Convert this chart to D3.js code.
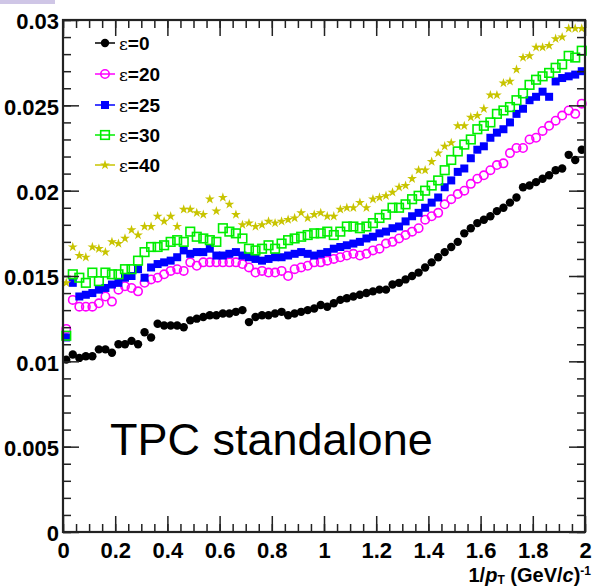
<!DOCTYPE html>
<html>
<head>
<meta charset="utf-8">
<script src="https://cdn.jsdelivr.net/npm/d3@7"></script>
<style>
  html, body { margin: 0; padding: 0; background: #fff; }
  svg { display: block; }
  text { font-family: "Liberation Sans", Arial, Helvetica, sans-serif; }
</style>
</head>
<body>
<svg id="chart" width="597" height="588"></svg>
<script>
// Histogram binning in 1/pT: 80 bins of width 0.025 between 0 and 2
const binWidth = 0.025;
const nBins = 80;
const binCenters = d3.range(nBins).map(i => binWidth * (i + 0.5));

// Resolution per bin for each setting of epsilon
const eps0 = [
  0.0101, 0.0104, 0.0102, 0.0103, 0.0103, 0.0107, 0.0107, 0.0105, 0.0110, 0.0110,
  0.0112, 0.0110, 0.0117, 0.0114, 0.0122, 0.0121, 0.0121, 0.0121, 0.0120, 0.0124,
  0.0125, 0.0126, 0.0127, 0.0127, 0.0128, 0.0128, 0.0129, 0.0130, 0.0123, 0.0126,
  0.0127, 0.0127, 0.0128, 0.0129, 0.0127, 0.0128, 0.0129, 0.0130, 0.0131, 0.0133,
  0.0132, 0.0134, 0.0136, 0.0137, 0.0138, 0.0139, 0.0140, 0.0141, 0.0142, 0.0142,
  0.0145, 0.0146, 0.0148, 0.0150, 0.0152, 0.0155, 0.0158, 0.0161, 0.0164, 0.0167,
  0.0170, 0.0175, 0.0178, 0.0181, 0.0183, 0.0185, 0.0188, 0.0190, 0.0193, 0.0196,
  0.0202, 0.0203, 0.0205, 0.0207, 0.0209, 0.0212, 0.0213, 0.0221, 0.0218, 0.0224
];
const eps20 = [
  0.0119, 0.0136, 0.0132, 0.0132, 0.0132, 0.0134, 0.0138, 0.0135, 0.0142, 0.0144,
  0.0143, 0.0141, 0.0146, 0.0148, 0.0149, 0.0151, 0.0153, 0.0154, 0.0153, 0.0158,
  0.0156, 0.0158, 0.0158, 0.0158, 0.0158, 0.0158, 0.0158, 0.0157, 0.0155, 0.0152,
  0.0153, 0.0152, 0.0152, 0.0153, 0.0150, 0.0154, 0.0155, 0.0156, 0.0158, 0.0158,
  0.0159, 0.0160, 0.0161, 0.0162, 0.0163, 0.0162, 0.0163, 0.0165, 0.0166, 0.0169,
  0.0170, 0.0172, 0.0174, 0.0176, 0.0178, 0.0183, 0.0185, 0.0187, 0.0192, 0.0195,
  0.0198, 0.0200, 0.0204, 0.0207, 0.0209, 0.0212, 0.0215, 0.0216, 0.0222, 0.0225,
  0.0225, 0.0230, 0.0231, 0.0235, 0.0238, 0.0241, 0.0244, 0.0247, 0.0245, 0.0251
];
const eps25 = [
  0.0114, 0.0146, 0.0138, 0.0139, 0.0140, 0.0142, 0.0143, 0.0145, 0.0146, 0.0149,
  0.0150, 0.0154, 0.0149, 0.0155, 0.0157, 0.0158, 0.0159, 0.0161, 0.0165, 0.0163,
  0.0164, 0.0164, 0.0166, 0.0162, 0.0162, 0.0163, 0.0164, 0.0162, 0.0161, 0.0160,
  0.0159, 0.0160, 0.0161, 0.0161, 0.0162, 0.0163, 0.0164, 0.0163, 0.0162, 0.0163,
  0.0164, 0.0166, 0.0167, 0.0168, 0.0169, 0.0170, 0.0172, 0.0173, 0.0175, 0.0176,
  0.0178, 0.0179, 0.0182, 0.0185, 0.0187, 0.0190, 0.0193, 0.0196, 0.0202, 0.0206,
  0.0211, 0.0213, 0.0219, 0.0224, 0.0226, 0.0231, 0.0234, 0.0236, 0.0240, 0.0245,
  0.0248, 0.0253, 0.0255, 0.0258, 0.0255, 0.0264, 0.0266, 0.0267, 0.0268, 0.0270
];
const eps30 = [
  0.0115, 0.0151, 0.0149, 0.0146, 0.0152, 0.0147, 0.0152, 0.0151, 0.0151, 0.0154,
  0.0154, 0.0159, 0.0164, 0.0167, 0.0167, 0.0168, 0.0170, 0.0171, 0.0170, 0.0176,
  0.0173, 0.0172, 0.0171, 0.0170, 0.0178, 0.0176, 0.0175, 0.0172, 0.0166, 0.0165,
  0.0166, 0.0168, 0.0166, 0.0169, 0.0171, 0.0172, 0.0173, 0.0174, 0.0175, 0.0175,
  0.0176, 0.0174, 0.0176, 0.0179, 0.0179, 0.0178, 0.0179, 0.0181, 0.0184, 0.0186,
  0.0190, 0.0190, 0.0192, 0.0195, 0.0197, 0.0200, 0.0203, 0.0206, 0.0212, 0.0218,
  0.0223, 0.0227, 0.0230, 0.0236, 0.0238, 0.0240, 0.0245, 0.0247, 0.0249, 0.0253,
  0.0257, 0.0262, 0.0265, 0.0267, 0.0269, 0.0272, 0.0274, 0.0279, 0.0278, 0.0282
];
const eps40 = [
  0.0146, 0.0167, 0.0162, 0.0161, 0.0167, 0.0166, 0.0164, 0.0170, 0.0169, 0.0172,
  0.0177, 0.0174, 0.0179, 0.0179, 0.0185, 0.0182, 0.0185, 0.0179, 0.0189, 0.0189,
  0.0187, 0.0186, 0.0195, 0.0188, 0.0196, 0.0192, 0.0186, 0.0180, 0.0181, 0.0179,
  0.0180, 0.0182, 0.0181, 0.0182, 0.0183, 0.0184, 0.0187, 0.0184, 0.0186, 0.0187,
  0.0185, 0.0185, 0.0189, 0.0190, 0.0190, 0.0193, 0.0190, 0.0195, 0.0196, 0.0197,
  0.0199, 0.0202, 0.0203, 0.0207, 0.0212, 0.0212, 0.0217, 0.0222, 0.0226, 0.0228,
  0.0238, 0.0238, 0.0243, 0.0244, 0.0248, 0.0256, 0.0256, 0.0263, 0.0264, 0.0271,
  0.0278, 0.0279, 0.0284, 0.0284, 0.0285, 0.0289, 0.0290, 0.0295, 0.0295, 0.0295
];

const seriesNames = ["0", "20", "25", "30", "40"];
const seriesValues = [eps0, eps20, eps25, eps30, eps40];

const xTickValues = [0, 0.2, 0.4, 0.6, 0.8, 1, 1.2, 1.4, 1.6, 1.8, 2];
const xTickLabels = ["0", "0.2", "0.4", "0.6", "0.8", "1", "1.2", "1.4", "1.6", "1.8", "2"];
const yTickValues = [0, 0.005, 0.01, 0.015, 0.02, 0.025, 0.03];
const yTickLabels = ["0", "0.005", "0.01", "0.015", "0.02", "0.025", "0.03"];

// Marker styles per series
const styles = [
  { color: "#000000", shape: "circleFilled" },
  { color: "#ff00ff", shape: "circleOpen" },
  { color: "#0000ff", shape: "squareFilled" },
  { color: "#00ee00", shape: "squareOpen" },
  { color: "#c8c400", shape: "star" }
];

const svg = d3.select("#chart");
const frame = { left: 63, right: 585, top: 20, bottom: 532 };

const x = d3.scaleLinear().domain([0, 2]).range([frame.left, frame.right]);
const y = d3.scaleLinear().domain([0, 0.03]).range([frame.bottom, frame.top]);

// small header strip in the corner
svg.append("rect").attr("x", 0).attr("y", 0).attr("width", 55).attr("height", 4)
  .attr("fill", "#cfc6e6");

function drawMarker(g, shape, color) {
  if (shape === "circleFilled") {
    g.append("circle").attr("r", 4.2).attr("fill", color);
  } else if (shape === "circleOpen") {
    g.append("circle").attr("r", 4.2).attr("fill", "none")
      .attr("stroke", color).attr("stroke-width", 1.6);
  } else if (shape === "squareFilled") {
    g.append("rect").attr("x", -4).attr("y", -4).attr("width", 8).attr("height", 8)
      .attr("fill", color);
  } else if (shape === "squareOpen") {
    g.append("rect").attr("x", -4.3).attr("y", -4.3).attr("width", 8.6).attr("height", 8.6)
      .attr("fill", "none").attr("stroke", color).attr("stroke-width", 1.6);
  } else if (shape === "star") {
    g.append("path").attr("d", d3.symbol(d3.symbolStar, 30)()).attr("fill", color);
  }
}

// Data points
const plot = svg.append("g").attr("class", "points");
seriesValues.forEach((vals, si) => {
  const st = styles[si];
  const gs = plot.append("g");
  vals.forEach((v, i) => {
    const g = gs.append("g").attr("transform", `translate(${x(binCenters[i])},${y(v)})`);
    drawMarker(g, st.shape, st.color);
  });
});

// Axes with inward ticks on all four sides
const axisColor = "#222";
function styleAxis(g) {
  g.select(".domain").remove();
  g.selectAll("line").attr("stroke", axisColor).attr("stroke-width", 1.5);
}

const xMinor = d3.range(0, 2.0001, 0.05);
const yMinor = d3.range(0, 0.03001, 0.001);

// bottom
svg.append("g").attr("transform", `translate(0,${frame.bottom})`)
  .call(d3.axisBottom(x).tickValues(xMinor).tickSizeInner(-8).tickSizeOuter(0).tickFormat(""))
  .call(styleAxis).selectAll("text").remove();
svg.append("g").attr("transform", `translate(0,${frame.bottom})`)
  .call(d3.axisBottom(x).tickValues(xTickValues).tickSizeInner(-16).tickSizeOuter(0)
    .tickPadding(10).tickFormat((d, i) => xTickLabels[i]))
  .call(styleAxis)
  .call(g => g.selectAll("text").attr("fill", "#000").style("font-size", "22px")
    .style("font-weight", "bold"));
// top
svg.append("g").attr("transform", `translate(0,${frame.top})`)
  .call(d3.axisTop(x).tickValues(xMinor).tickSizeInner(-8).tickSizeOuter(0).tickFormat(""))
  .call(styleAxis);
svg.append("g").attr("transform", `translate(0,${frame.top})`)
  .call(d3.axisTop(x).tickValues(xTickValues).tickSizeInner(-16).tickSizeOuter(0).tickFormat(""))
  .call(styleAxis);
// left
svg.append("g").attr("transform", `translate(${frame.left},0)`)
  .call(d3.axisLeft(y).tickValues(yMinor).tickSizeInner(-8).tickSizeOuter(0).tickFormat(""))
  .call(styleAxis);
svg.append("g").attr("transform", `translate(${frame.left},0)`)
  .call(d3.axisLeft(y).tickValues(yTickValues).tickSizeInner(-16).tickSizeOuter(0)
    .tickPadding(4).tickFormat((d, i) => yTickLabels[i]))
  .call(styleAxis)
  .call(g => g.selectAll("text").attr("fill", "#000").attr("dy", "0.4em")
    .style("font-size", "22px").style("font-weight", "bold"));
// right
svg.append("g").attr("transform", `translate(${frame.right},0)`)
  .call(d3.axisRight(y).tickValues(yMinor).tickSizeInner(-8).tickSizeOuter(0).tickFormat(""))
  .call(styleAxis);
svg.append("g").attr("transform", `translate(${frame.right},0)`)
  .call(d3.axisRight(y).tickValues(yTickValues).tickSizeInner(-16).tickSizeOuter(0).tickFormat(""))
  .call(styleAxis);

// Frame
svg.append("rect")
  .attr("x", frame.left).attr("y", frame.top)
  .attr("width", frame.right - frame.left).attr("height", frame.bottom - frame.top)
  .attr("fill", "none").attr("stroke", axisColor).attr("stroke-width", 2.2);

// X axis title: 1/p_T (GeV/c)^-1
const xt = svg.append("text")
  .attr("x", 591).attr("y", 582)
  .attr("text-anchor", "end")
  .style("font-size", "20px").style("font-weight", "bold").attr("fill", "#000");
xt.append("tspan").text("1/");
xt.append("tspan").style("font-style", "italic").text("p");
xt.append("tspan").attr("dy", 2).style("font-size", "12px").text("T");
xt.append("tspan").attr("dy", -2).text(" (GeV/");
xt.append("tspan").style("font-style", "italic").text("c");
xt.append("tspan").text(")");
xt.append("tspan").attr("dy", -7).style("font-size", "12px").text("-1");

// Legend
const legendRows = [43, 74, 105, 135, 165];
const legend = svg.append("g");
seriesNames.forEach((name, i) => {
  const st = styles[i];
  const ly = legendRows[i];
  legend.append("line").attr("x1", 95).attr("x2", 115).attr("y1", ly).attr("y2", ly)
    .attr("stroke", st.color).attr("stroke-width", 1.5);
  const g = legend.append("g").attr("transform", `translate(105,${ly})`);
  drawMarker(g, st.shape, st.color);
  const t = legend.append("text").attr("x", 119).attr("y", ly).attr("dy", "0.36em")
    .style("font-size", "19px").attr("fill", "#000");
  t.append("tspan").style("font-family", "'DejaVu Serif', serif").style("font-size", "17px").text("ε");
  t.append("tspan").style("font-weight", "bold").text("=" + name);
});

// Annotation
svg.append("text")
  .attr("x", 110).attr("y", 455)
  .style("font-size", "45px").attr("fill", "#000")
  .text("TPC standalone");
</script>
</body>
</html>
